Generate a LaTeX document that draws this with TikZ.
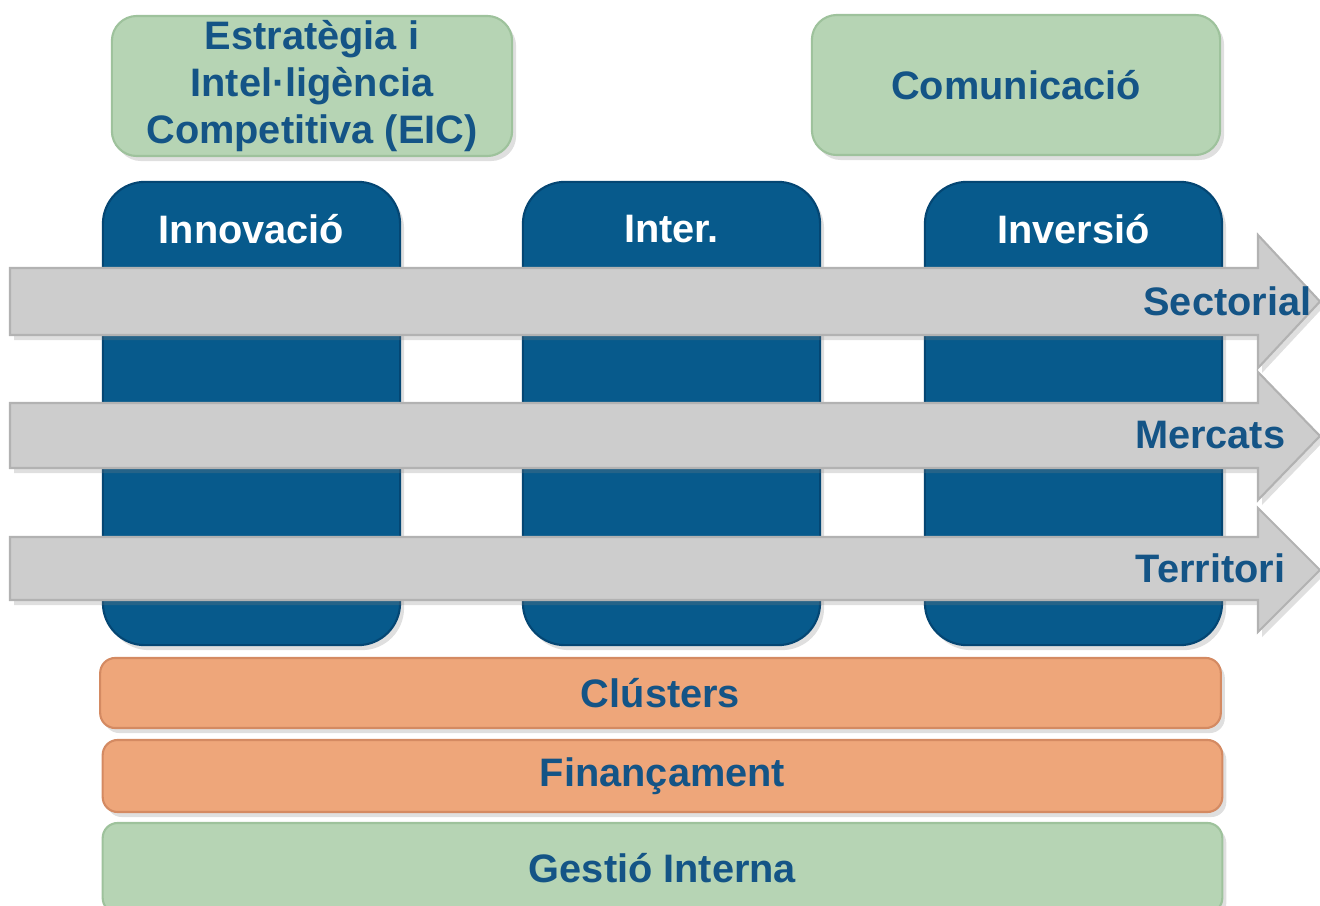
\documentclass[tikz,border=0pt]{standalone}
\usepackage{fontspec}
\setmainfont{Liberation Sans}
\usetikzlibrary{shadows}

\definecolor{verd}{RGB}{182,212,180}
\definecolor{verdvora}{RGB}{158,194,156}
\definecolor{blau}{RGB}{7,90,140}
\definecolor{blauvora}{RGB}{4,70,115}
\definecolor{blautext}{RGB}{20,84,134}
\definecolor{taronja}{RGB}{238,166,122}
\definecolor{taronjavora}{RGB}{212,138,98}
\definecolor{gris}{RGB}{205,205,205}
\definecolor{grisvora}{RGB}{178,178,178}

\tikzset{
	ombra/.style={drop shadow={opacity=0.25, shadow xshift=0.04cm, shadow yshift=-0.05cm}},
	lletra/.style={font=\fontsize{11.3}{13.4}\selectfont\bfseries},
	caixaverda/.style={ombra, rounded corners=0.25cm, draw=verdvora, fill=verd, line width=0.6pt, text=blautext, lletra, align=center},
	columna/.style={ombra, rounded corners=0.42cm, draw=blauvora, fill=blau, line width=0.6pt, minimum width=2.97cm, minimum height=4.63cm},
	barra/.style={ombra, rounded corners=0.15cm, draw=taronjavora, fill=taronja, line width=0.6pt, minimum width=11.2cm, minimum height=0.7cm, text=blautext, lletra},
	fletxa/.style={ombra, draw=grisvora, fill=gris, line width=0.6pt},
}

\begin{document}
\begin{tikzpicture}[x=0.01cm, y=-0.01cm]
	\useasboundingbox (0,0) rectangle (1320,906);
	
	% caixes de dalt
	\node[caixaverda, inner ysep=0pt, minimum width=4cm, minimum height=1.4cm] (eic) at (312,86) {Estratègia i\\Intel·ligència\\Competitiva (EIC)};
	\node[caixaverda, minimum width=4.08cm, minimum height=1.4cm] (comu) at (1016,85) {Comunicació};
	
	% columnes
	\node[columna] (innov) at (251.5,413.5) {};
	\node[columna] (inter) at (671.5,413.5) {};
	\node[columna] (inver) at (1073.5,413.5) {};
	\node[lletra, text=white] (tinnov) at (251.5,229) {Innovació};
	\node[lletra, text=white] (tinter) at (671.5,229) {Inter.};
	\node[lletra, text=white] (tinver) at (1073.5,229) {Inversió};
	
	% fletxes
	\foreach \nom/\dalt/\baix/\hdalt/\hbaix/\final/\txt in {sect/268/335/235/368/1312/Sectorial, merc/403/468/372/500/1286/Mercats, terr/537/600/508/632/1286/Territori}{
		\filldraw[fletxa] (10,\dalt) -- (1258,\dalt) -- (1258,\hdalt) -- (1320,{(\hdalt+\hbaix)/2}) -- (1258,\hbaix) -- (1258,\baix) -- (10,\baix) -- cycle;
		\node[lletra, text=blautext, anchor=east, inner sep=0pt] (\nom) at (\final,{(\dalt+\baix)/2}) {\txt};
	}
	
	% barres de baix
	\node[barra] (clust) at (660.5,693) {Clústers};
	\node[barra, minimum width=11.19cm, minimum height=0.72cm] (finan) at (662.5,776) {Finançament};
	\node[barra, draw=verdvora, fill=verd, minimum width=11.19cm, minimum height=0.9cm] (gestio) at (662.5,868) {Gestió Interna};
	
\end{tikzpicture}
\end{document}
